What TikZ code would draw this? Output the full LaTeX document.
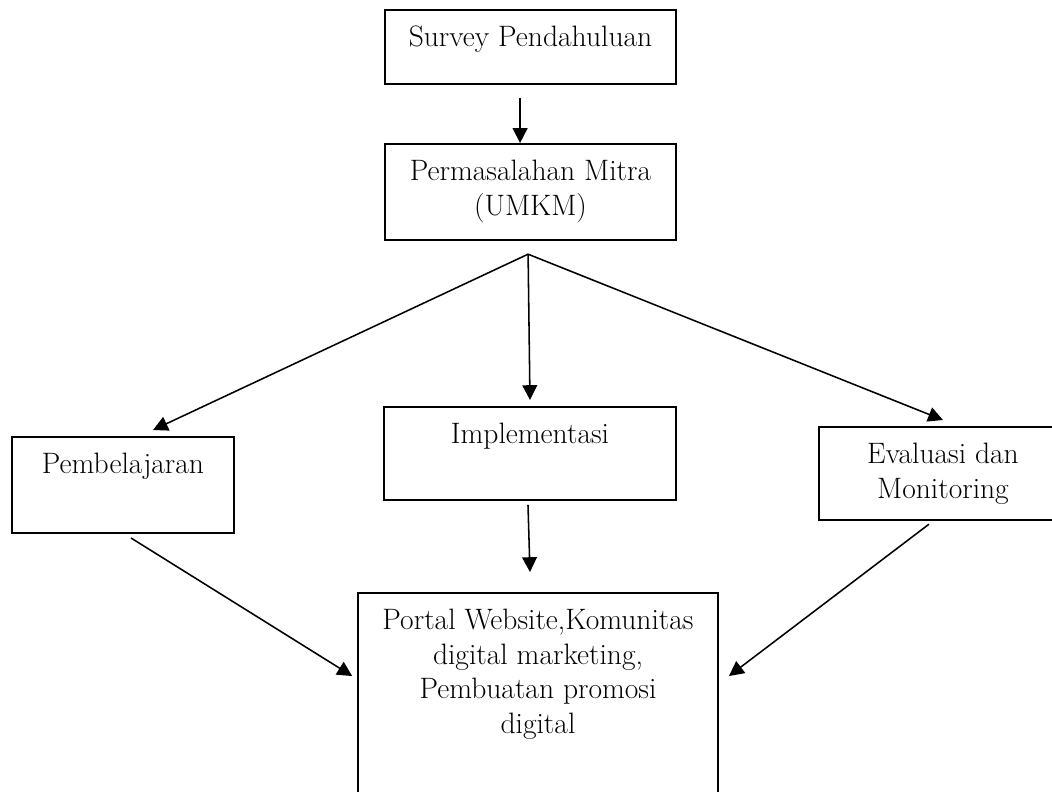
\documentclass[tikz,border=0pt]{standalone}
\usetikzlibrary{positioning,arrows.meta}
\tikzset{
  kotak/.style 2 args={draw, line width=1.4pt, inner sep=0pt, anchor=north west,
    minimum width=#1*0.025cm, minimum height=#2*0.025cm},
  teks/.style={inner sep=0pt, align=center, font=\fontsize{21}{24.8}\selectfont},
  panah/.style={-{Triangle[length=0.37cm,width=0.37cm]}, line width=1.1pt}
}
\begin{document}
\begin{tikzpicture}[x=0.025cm,y=-0.025cm]
    \clip (0,0) rectangle (1052,791);
    % kotak
    \node[kotak={291}{74}] (survey) at (384,9) {};
    \node[kotak={291}{96}] (masalah) at (384,143) {};
    \node[kotak={222}{96}] (belajar) at (11,436) {};
    \node[kotak={292}{93}] (implementasi) at (383,406) {};
    \node[kotak={248}{93}] (evaluasi) at (818,426) {};
    \node[kotak={360}{260}] (portal) at (357,592) {};
    % teks
    \node[teks, below=0.41cm of survey.north] (survey-t) {Survey Pendahuluan};
    \node[teks, below=0.41cm of masalah.north] (masalah-t) {Permasalahan Mitra\\(UMKM)};
    \node[teks, below=0.41cm of belajar.north] (belajar-t) {Pembelajaran};
    \node[teks, below=0.41cm of implementasi.north] (implementasi-t) {Implementasi};
    \node[teks, below=0.41cm of evaluasi.north] (evaluasi-t) {Evaluasi dan\\Monitoring};
    \node[teks, below=0.41cm of portal.north] (portal-t) {Portal Website,Komunitas\\digital marketing,\\Pembuatan promosi\\digital};
    % panah
    \coordinate (cabang) at ([xshift=-0.06cm,yshift=-0.33cm]masalah.south);
    \draw[panah] ([xshift=-0.26cm,yshift=-0.32cm]survey.south) -- ([xshift=-0.26cm]masalah.north);
    \draw[panah] (cabang) -- ([xshift=0.75cm,yshift=0.15cm]belajar.north);
    \draw[panah] (cabang) -- ([yshift=0.15cm]implementasi.north);
    \draw[panah] (cabang) -- ([yshift=0.15cm]evaluasi.north);
    \draw[panah] ([xshift=0.2cm,yshift=-0.1cm]belajar.south) -- ([xshift=-0.12cm,yshift=-2.1cm]portal.north west);
    \draw[panah] ([xshift=-0.05cm,yshift=-0.1cm]implementasi.south) -- ([xshift=-0.2cm,yshift=0.5cm]portal.north);
    \draw[panah] ([xshift=-0.35cm,yshift=-0.08cm]evaluasi.south) -- ([xshift=0.25cm,yshift=-2.1cm]portal.north east);
\end{tikzpicture}
\end{document}
